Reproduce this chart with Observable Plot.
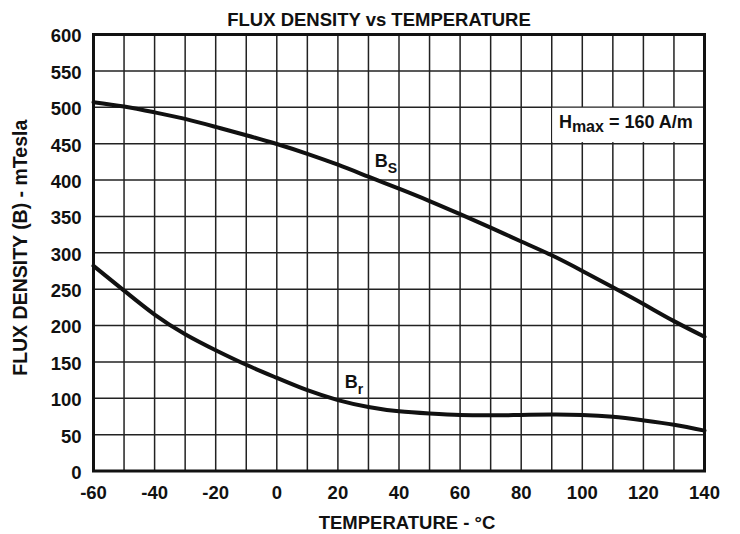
<!DOCTYPE html>
<html>
<head>
<meta charset="utf-8">
<script src="https://cdn.jsdelivr.net/npm/d3@7"></script>
<script src="https://cdn.jsdelivr.net/npm/@observablehq/plot@0.6"></script>
<style>
  body { margin: 0; background: #fff; }
</style>
</head>
<body>
<div id="chart"></div>
<script>
// Temperature (°C) and flux density (mT) for the saturation (Bs) and remanent (Br) curves
const temperature = [-60, -50, -40, -30, -20, -10, 0, 10, 20, 30, 40, 50, 60, 70, 80, 90, 100, 110, 120, 130, 140];
const saturation  = [507, 501, 493, 484, 473, 461.5, 449.5, 436, 421, 404.5, 388, 371, 353, 334.5, 315.5, 296.5, 275, 252.5, 229.5, 206, 184.5];
const remanence   = [282, 248, 215, 188, 166, 146, 128, 111, 97.5, 88, 82, 79, 77, 76.5, 77, 77.5, 77, 74.5, 69.5, 63.5, 55.5];

// Axis ticks and grid
const xTicks = [-60, -40, -20, 0, 20, 40, 60, 80, 100, 120, 140];
const yTicks = [0, 50, 100, 150, 200, 250, 300, 350, 400, 450, 500, 550, 600];
const xGrid  = [-50, -40, -30, -20, -10, 0, 10, 20, 30, 40, 50, 60, 70, 80, 90, 100, 110, 120, 130];

// Texts
const title = "FLUX DENSITY vs TEMPERATURE";
const xLabel = "TEMPERATURE - °C";
const yLabel = "FLUX DENSITY (B) - mTesla";

// Curve labels (data coordinates), with subscripts
const curveLabels = [
  {t: 32.2, b: 416.5, main: "B", sub: "S", rest: ""},
  {t: 22.4, b: 113, main: "B", sub: "r", rest: ""},
  {t: 92.5, b: 470.9, main: "H", sub: "max", rest: " = 160 A/m"}
];
// Grid cell cleared behind the field-strength note
const noteBox = [{x1: 90, x2: 140, y1: 450, y2: 500}];

const rows = temperature.flatMap((t, i) => [
  {t, b: saturation[i], series: "Bs"},
  {t, b: remanence[i], series: "Br"}
]);

const font = "'Liberation Sans', Arial, Helvetica, sans-serif";

const chart = Plot.plot({
  width: 740,
  height: 534,
  marginLeft: 93,
  marginRight: 36,
  marginTop: 34,
  marginBottom: 63.5,
  style: {fontFamily: font, fontSize: "18.5px", fontWeight: "bold", color: "#111", background: "#fff"},
  x: {domain: [-60, 140], label: null},
  y: {domain: [0, 600], label: null},
  marks: [
    Plot.gridX(xGrid, {stroke: "#222", strokeOpacity: 1, strokeWidth: 1.5}),
    Plot.gridY(yTicks, {stroke: "#222", strokeOpacity: 1, strokeWidth: 1.5}),
    Plot.rect(noteBox, {x1: "x1", x2: "x2", y1: "y1", y2: "y2", fill: "white", inset: 1}),
    Plot.line(rows, {x: "t", y: "b", z: "series", curve: "natural", stroke: "#111", strokeWidth: 4}),
    Plot.frame({stroke: "#111", strokeWidth: 3}),
    Plot.axisX(xTicks, {tickSize: 0, tickPadding: 15, tickFormat: d => String(d), label: null, fontSize: 18.5, fontWeight: "bold"}),
    Plot.axisY(yTicks, {tickSize: 0, tickPadding: 12, tickFormat: d => String(d), label: null, fontSize: 18.5, fontWeight: "bold", dy: 2}),
    Plot.text([title], {text: d => d, frameAnchor: "top", lineAnchor: "middle", dx: -20, dy: -14.5, fontSize: 18.5, fontWeight: "bold"}),
    Plot.text([xLabel], {text: d => d, frameAnchor: "bottom", lineAnchor: "middle", dx: 8, dy: 52.5, fontSize: 18.5, fontWeight: "bold"}),
    Plot.text([yLabel], {text: d => d, frameAnchor: "left", textAnchor: "middle", lineAnchor: "middle", dx: -73, dy: -5, rotate: -90, fontSize: 19.5, fontWeight: "bold"})
  ]
});

// Curve labels with subscripts, placed through the chart's scales
const sx = chart.scale("x"), sy = chart.scale("y");
const labelText = d3.select(chart).append("g")
  .attr("font-family", font)
  .attr("font-weight", "bold")
  .attr("fill", "#111")
  .attr("text-anchor", "start")
  .selectAll("text")
  .data(curveLabels)
  .join("text")
  .attr("x", d => sx.apply(d.t))
  .attr("y", d => sy.apply(d.b))
  .attr("font-size", 18);
labelText.append("tspan").text(d => d.main);
labelText.append("tspan").attr("font-size", d => d.sub === "max" ? 16 : 14).attr("dy", d => d.sub === "max" ? 4 : 6).text(d => d.sub);
labelText.filter(d => d.rest).append("tspan").attr("dy", -4).text(d => d.rest);

document.getElementById("chart").appendChild(chart);
</script>
</body>
</html>
